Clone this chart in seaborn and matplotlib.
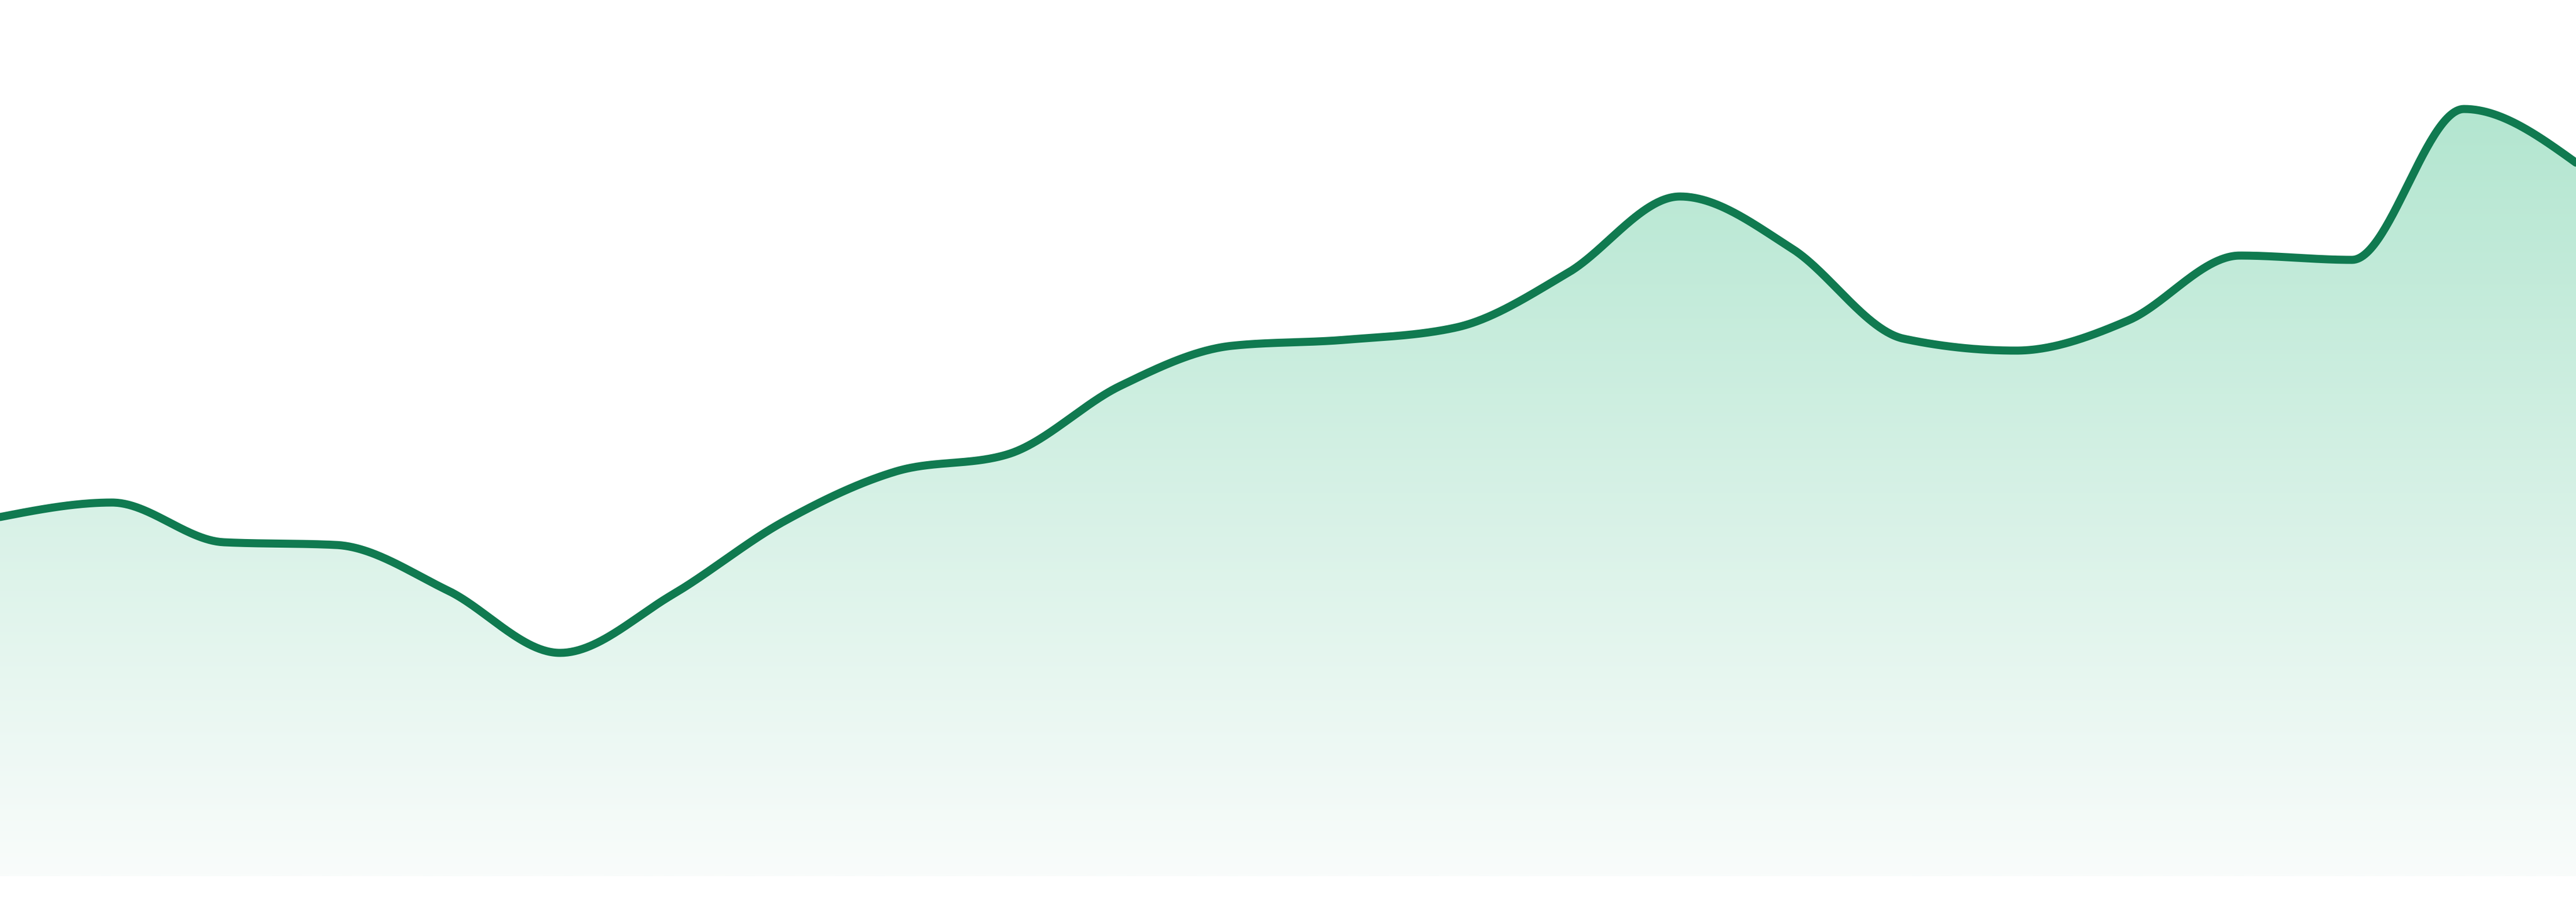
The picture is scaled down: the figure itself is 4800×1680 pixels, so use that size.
import numpy as np
import matplotlib
matplotlib.use('Agg')
import matplotlib.pyplot as plt
import seaborn as sns

# 24 evenly spaced samples (arbitrary units)
points = list(range(24))
values = [71.7, 74.4, 67.0, 66.5, 58.0, 46.4, 57.2, 70.9, 80.2, 83.4, 96.1, 103.6,
          104.7, 107.0, 117.2, 131.4, 121.7, 104.9, 102.7, 108.3, 120.4, 119.6, 147.7, 137.7]
baseline = 4.8

line_color = '#107a50'
fill_top = (179, 230, 208)
fill_bottom = (249, 252, 251)


def monotone_curve(x, y, n=60):
    # monotone cubic (Steffen) like d3.curveMonotoneX
    x = np.asarray(x, float)
    y = np.asarray(y, float)
    h = np.diff(x)
    s = np.diff(y) / h
    m = np.zeros_like(y)
    for i in range(1, len(y) - 1):
        p = (s[i - 1] * h[i] + s[i] * h[i - 1]) / (h[i - 1] + h[i])
        m[i] = (np.sign(s[i - 1]) + np.sign(s[i])) * min(abs(s[i - 1]), abs(s[i]), 0.5 * abs(p))
    m[0] = (3 * s[0] - m[1]) / 2
    m[-1] = (3 * s[-1] - m[-2]) / 2
    xs, ys = [], []
    for i in range(len(h)):
        t = np.linspace(0, 1, n, endpoint=False)
        h00 = 2 * t**3 - 3 * t**2 + 1
        h10 = t**3 - 2 * t**2 + t
        h01 = -2 * t**3 + 3 * t**2
        h11 = t**3 - t**2
        xs.append(x[i] + t * h[i])
        ys.append(h00 * y[i] + h10 * h[i] * m[i] + h01 * y[i + 1] + h11 * h[i] * m[i + 1])
    xs.append([x[-1]])
    ys.append([y[-1]])
    return np.concatenate(xs), np.concatenate(ys)


xs, ys = monotone_curve(points, values)

sns.set_theme(style='white')
fig = plt.figure(figsize=(48, 16.8), dpi=100)
ax = fig.add_axes([0, 0, 1, 1])

fill = ax.fill_between(xs, ys, baseline, color='none', linewidth=0)
grad = np.linspace(0, 1, 256)[:, None]
rgb = np.array(fill_top)[None, None, :] * (1 - grad[..., None]) + np.array(fill_bottom)[None, None, :] * grad[..., None]
img = ax.imshow(rgb / 255.0, extent=[points[0], points[-1], baseline, max(values)],
                aspect='auto', origin='upper', zorder=1, interpolation='bilinear')
img.set_clip_path(fill.get_paths()[0], transform=ax.transData)

sns.lineplot(x=xs, y=ys, color=line_color, linewidth=10.8, estimator=None, sort=False, ax=ax, zorder=3)

ax.set_xlim(points[0], points[-1])
ax.set_ylim(0, 168)
ax.axis('off')
fig.savefig('out.png', dpi=100, facecolor='white')
